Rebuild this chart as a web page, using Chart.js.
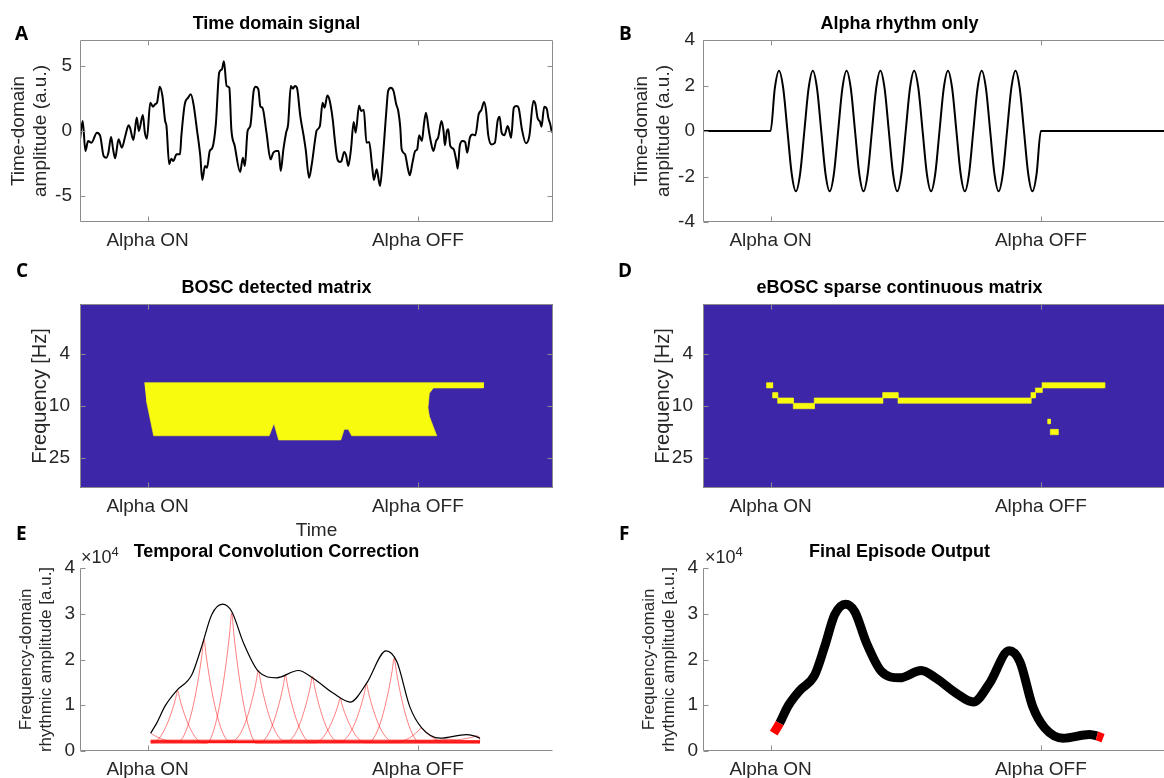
<!DOCTYPE html>
<html>
<head>
<meta charset="utf-8">
<script src="https://cdn.jsdelivr.net/npm/chart.js@4.4.0/dist/chart.umd.min.js"></script>
<style>
html,body{margin:0;padding:0;background:#fff;overflow:hidden;width:1164px;height:778px;position:relative}
canvas{position:absolute}
.tag{position:absolute;font:bold 19px "Open Sans",sans-serif;line-height:19px;color:#000}
.mult{position:absolute;font:18px "Liberation Sans",Arial,sans-serif;line-height:18px;color:#262626}
.mult sup{font-size:13px;vertical-align:top;position:relative;top:-5px}
</style>
</head>
<body>
<canvas id="a" width="560" height="252" style="left:0;top:10px"></canvas>
<canvas id="b" width="557" height="252" style="left:623px;top:10px"></canvas>
<canvas id="c" width="560" height="268" style="left:0;top:274px"></canvas>
<canvas id="d" width="557" height="254" style="left:623px;top:274px"></canvas>
<canvas id="e" width="560" height="240" style="left:0;top:538px"></canvas>
<canvas id="f" width="557" height="240" style="left:623px;top:538px"></canvas>

<div class="tag" style="left:15px;top:24px">A</div>
<div class="tag" style="left:619px;top:24px">B</div>
<div class="tag" style="left:16px;top:261px">C</div>
<div class="tag" style="left:618px;top:261px">D</div>
<div class="tag" style="left:16px;top:524px">E</div>
<div class="tag" style="left:619px;top:524px">F</div>
<div class="mult" style="left:81px;top:548px">×10<sup>4</sup></div>
<div class="mult" style="left:705px;top:548px">×10<sup>4</sup></div>

<script>
// x axis: time, alpha switched on at 1 and off at 5
const tickTimes = [1, 5]
const tickNames = ["Alpha ON", "Alpha OFF"]

// A: raw signal
const rawTime = [0.00,0.04,0.08,0.12,0.17,0.25,0.30,0.35,0.39,0.42,0.46,0.49,0.52,0.57,0.62,0.67,0.72,0.74,0.79,0.84,0.87,0.93,0.96,0.99,
  1.04,1.08,1.11,1.14,1.18,1.22,1.26,1.28,1.32,1.35,1.38,1.43,1.48,1.50,1.55,1.60,1.64,1.68,1.73,1.78,1.81,1.85,1.88,1.92,1.96,
  2.01,2.06,2.10,2.13,2.17,2.21,2.24,2.29,2.37,2.41,2.44,2.48,2.52,2.57,2.60,2.64,2.67,2.70,2.76,2.82,2.86,2.91,2.94,2.97,
  3.01,3.05,3.08,3.12,3.15,3.18,3.21,3.26,3.31,3.34,3.39,3.43,3.48,3.50,3.55,3.59,3.62,3.66,3.69,3.74,3.77,3.81,3.85,3.87,3.91,3.94,3.97,
  4.01,4.05,4.08,4.13,4.16,4.20,4.24,4.28,4.32,4.35,4.39,4.44,4.48,4.53,4.56,4.60,4.64,4.68,4.71,4.74,4.76,4.81,4.85,4.88,4.92,4.96,4.99,
  5.02,5.06,5.09,5.12,5.16,5.19,5.23,5.27,5.30,5.35,5.38,5.40,5.43,5.45,5.48,5.53,5.57,5.59,5.62,5.66,5.70,5.73,5.77,5.81,5.85,5.90,5.94,5.98,
  6.01,6.04,6.09,6.14,6.18,6.21,6.24,6.28,6.33,6.37,6.38,6.42,6.46,6.49,6.54,6.60,6.65,6.71,6.74,6.77,6.81,6.83,6.87,6.91,6.93,6.96,6.98,7.00]
const rawValue = [-0.64,0.77,-1.54,-0.77,-0.90,-0.13,-0.40,-1.92,-2.05,-1.67,-0.46,-1.41,-2.10,-0.64,-1.28,-0.38,0.44,0.26,-0.69,1.03,0.00,1.23,-0.13,-0.59,
  2.18,1.87,2.05,2.18,3.41,2.69,0.77,0.38,-2.56,-2.13,-2.31,-1.79,-1.79,-0.38,2.05,2.56,2.82,2.05,0.13,-1.92,-3.77,-2.69,-2.82,-1.54,-1.28,
  0.51,4.49,4.74,5.36,3.46,3.33,0.13,-1.15,-3.15,-2.05,-2.69,0.00,0.38,3.08,3.41,3.20,1.87,1.79,-0.13,-2.18,-1.67,-1.54,-1.54,-3.08,
  -1.41,-0.13,0.51,3.46,3.26,3.46,3.33,1.15,-0.38,-1.41,-3.59,-2.56,-0.64,0.00,0.38,2.18,1.79,2.74,2.44,0.90,-0.64,-2.18,-2.38,-2.31,-1.62,-1.92,-2.69,
  -1.41,0.69,-0.13,1.97,1.54,1.62,-0.90,-0.85,-2.56,-3.77,-2.95,-4.23,-2.18,1.28,3.08,3.33,3.08,2.05,1.54,0.26,-1.41,-1.79,-2.82,-3.41,-2.44,-1.54,-1.41,
  -0.33,-0.77,0.51,1.41,0.13,-0.77,-1.54,-0.77,-0.51,0.77,0.00,-1.10,0.00,0.13,-1.15,-1.41,-2.31,-2.90,-1.15,-0.77,-0.85,-1.67,-0.51,-0.26,-0.33,1.28,1.62,2.23,
  1.54,-0.26,-1.03,-0.90,0.77,1.10,-0.13,-0.33,0.38,-0.38,-0.51,1.79,1.92,1.79,0.13,-0.95,-0.38,2.31,2.05,1.03,0.69,0.33,1.87,1.67,1.03,0.51,0.00,-0.13]
const rawTicks = [-5, 0, 5]

// B: the alpha rhythm, one reading every 1/16 s from Alpha ON
const alphaStart = 1
const alphaStep = 0.0625
const alphaValue = [0,1.87,2.65,1.87,0,-1.87,-2.65,-1.87, 0,1.87,2.65,1.87,0,-1.87,-2.65,-1.87,
  0,1.87,2.65,1.87,0,-1.87,-2.65,-1.87, 0,1.87,2.65,1.87,0,-1.87,-2.65,-1.87,
  0,1.87,2.65,1.87,0,-1.87,-2.65,-1.87, 0,1.87,2.65,1.87,0,-1.87,-2.65,-1.87,
  0,1.87,2.65,1.87,0,-1.87,-2.65,-1.87, 0,1.87,2.65,1.87,0,-1.87,-2.65,-1.87, 0]
const alphaTicks = [-4, -2, 0, 2, 4]

// C: outline of the detected block (time, Hz)
const boscTime = [0.953,5.97,5.97,5.23,5.17,5.15,5.17,5.23,5.28,4.02,3.97,3.91,3.86,2.94,2.87,2.80,1.09,0.98]
const boscFreq = [6.63,6.63,7.28,7.28,8.0,10.3,12.0,14.5,16.9,16.9,15.1,15.1,18.2,18.2,13.6,16.9,16.9,9.0]
const freqTicks = [4, 10, 25]

// D: sparse detections, one frequency bin each
const sparseStart = [0.94,1.03,1.105,1.336,1.646,2.659,2.886,4.853,4.919,5.018,5.101,5.14]
const sparseEnd   = [1.03,1.105,1.336,1.646,2.659,2.886,4.853,4.919,5.018,5.945,5.14,5.255]
const sparseLow   = [6.63,7.90,8.68,9.54,8.68,7.90,8.68,7.90,7.28,6.63,12.6,15.1]
const sparseHigh  = [7.28,8.68,9.54,10.5,9.54,8.68,9.54,8.68,7.90,7.28,13.7,16.6]

// E/F: episode amplitude
const envTime = [1.046,1.135,1.258,1.431,1.653,1.80,1.949,2.11,2.245,2.42,2.64,2.91,3.23,3.45,3.75,4.00,4.24,4.53,4.69,4.88,5.06,5.33,5.72,5.83,5.92]
const envAmp = [3900,6100,9800,13200,16600,22800,29800,32100,30500,23600,17400,16000,17600,15900,12600,10700,14800,21900,19500,9700,5000,2800,3600,3300,2800]
// E: wavelet kernels under the episode
const peakTime = [1.046,1.445,1.835,2.245,2.64,3.04,3.44,3.85,4.24,4.65,5.05,5.45,5.87]
const peakAmp  = [3900,13200,24400,30100,17700,16600,16300,11500,14600,20300,5100,2600,3300]
const peakBase = [2000,1800,2200,1700,2300,1900,2100,1800,2200,2000,1900,2100,2400]
const kernelOffset = [0,0.03,0.06,0.1,0.14,0.18,0.22,0.26,0.3,0.36]
const kernelShape  = [1,0.85,0.71,0.55,0.41,0.29,0.19,0.11,0.05,0]
const envTicks = [0, 10000, 20000, 30000, 40000]

const ink = '#262626'
const axisGray = '#8c8c8c'
const blue = 'rgb(62,38,168)'
const yellow = 'rgb(249,251,14)'

const frame = {
  id: 'frame',
  beforeDatasetsDraw(chart, args, opts) {
    if (!opts.fill) return
    const a = chart.chartArea
    chart.ctx.save()
    chart.ctx.fillStyle = opts.fill
    chart.ctx.fillRect(a.left, a.top, a.right - a.left, a.bottom - a.top)
    chart.ctx.restore()
  },
  afterDraw(chart, args, opts) {
    const {ctx, chartArea: a, scales} = chart
    const L = a.left + 0.5, R = a.right - 0.5, T = a.top + 0.5, B = a.bottom - 0.5
    ctx.save()
    ctx.strokeStyle = axisGray
    ctx.lineWidth = 1
    ctx.beginPath()
    if (opts.box) {
      ctx.rect(L, T, R - L, B - T)
    } else {
      ctx.moveTo(L, T); ctx.lineTo(L, B); ctx.lineTo(R, B)
    }
    scales.x.ticks.forEach(t => {
      const px = Math.round(scales.x.getPixelForValue(t.value)) + 0.5
      ctx.moveTo(px, B); ctx.lineTo(px, B - 5)
      if (opts.box) { ctx.moveTo(px, T); ctx.lineTo(px, T + 5) }
    })
    scales.y.ticks.forEach(t => {
      const py = Math.round(scales.y.getPixelForValue(t.value)) + 0.5
      ctx.moveTo(L, py); ctx.lineTo(L + 5, py)
      if (opts.box) { ctx.moveTo(R, py); ctx.lineTo(R - 5, py) }
    })
    ctx.stroke()
    ctx.restore()
  }
}
Chart.register(frame)
Chart.defaults.font.family = '"Liberation Sans", Arial, sans-serif'
Chart.defaults.color = ink
Chart.defaults.animation = false
Chart.defaults.plugins.legend.display = false
Chart.defaults.plugins.tooltip.enabled = false
Chart.defaults.elements.point.radius = 0

function xAxis(h, title) {
  return {
    type: 'linear', min: 0, max: 7,
    grid: {display: false, drawTicks: false}, border: {display: false},
    ticks: {font: {size: 19}, padding: 7, maxRotation: 0, autoSkip: false, callback: (v, i) => tickNames[i]},
    afterBuildTicks: s => { s.ticks = tickTimes.map(v => ({value: v})) },
    afterFit: s => { s.height = h },
    title: title ? {display: true, text: title, font: {size: 19, lineHeight: 1.2}, padding: 0} : {display: false}
  }
}

function yAxis(type, min, max, ticks, pad, label, labelSize, titlePad, fmt) {
  return {
    type: type, min: min, max: max, reverse: type === 'logarithmic',
    grid: {display: false, drawTicks: false}, border: {display: false},
    ticks: {font: {size: 19}, padding: pad, autoSkip: false, callback: (v, i) => fmt(ticks[i])},
    afterBuildTicks: s => { s.ticks = ticks.map(v => ({value: v})) },
    afterFit: s => { s.width = 80 },
    title: {display: true, text: label, font: {size: labelSize, lineHeight: 1.15}, padding: {top: titlePad, bottom: 0}}
  }
}

function options(title, x, y, frameOpts, padRight) {
  return {
    responsive: false,
    layout: {padding: {left: 0, top: 0, bottom: 0, right: padRight}},
    plugins: {
      title: {display: true, text: title, color: '#000', font: {size: 18, weight: 'bold', lineHeight: 1}, padding: {top: 5, bottom: 7}},
      frame: frameOpts
    },
    scales: {x: x, y: y}
  }
}

const pairs = (xs, ys) => xs.map((v, i) => ({x: v, y: ys[i]}))

// A
new Chart(document.getElementById('a'), {
  type: 'line',
  data: {datasets: [{data: pairs(rawTime, rawValue), borderColor: '#000', borderWidth: 2, cubicInterpolationMode: 'monotone'}]},
  options: options('Time domain signal', xAxis(40),
    yAxis('linear', -7, 7, rawTicks, 8, ['Time-domain', 'amplitude (a.u.)'], 19, 8, String), {box: true}, 7)
})

// B
const alphaPts = [{x: 0, y: 0}].concat(alphaValue.map((v, i) => ({x: alphaStart + i * alphaStep, y: v}))).concat([{x: 7, y: 0}])
new Chart(document.getElementById('b'), {
  type: 'line',
  data: {datasets: [{data: alphaPts, borderColor: '#000', borderWidth: 2, cubicInterpolationMode: 'monotone'}]},
  options: options('Alpha rhythm only', xAxis(40),
    yAxis('linear', -4, 4, alphaTicks, 8, ['Time-domain', 'amplitude (a.u.)'], 19, 8, String), {box: true}, 4)
})

// C
new Chart(document.getElementById('c'), {
  type: 'line',
  data: {datasets: [{data: pairs(boscTime, boscFreq), fill: 'shape', backgroundColor: yellow, borderColor: 'rgba(249,251,14,0.6)', borderWidth: 1}]},
  options: options('BOSC detected matrix', xAxis(54, 'Time'),
    yAxis('logarithmic', 1.66, 42.4, freqTicks, 10, 'Frequency [Hz]', 20, 29, String), {box: true, fill: blue}, 7)
})

// D
const sparseSets = sparseStart.map((t0, i) => ({
  data: [{x: t0, y: sparseLow[i]}, {x: sparseEnd[i], y: sparseLow[i]}, {x: sparseEnd[i], y: sparseHigh[i]}, {x: t0, y: sparseHigh[i]}, {x: t0, y: sparseLow[i]}],
  fill: 'shape', backgroundColor: yellow, borderColor: 'rgba(249,251,14,0.6)', borderWidth: 1
}))
new Chart(document.getElementById('d'), {
  type: 'line',
  data: {datasets: sparseSets},
  options: options('eBOSC sparse continuous matrix', xAxis(40),
    yAxis('logarithmic', 1.66, 42.4, freqTicks, 10, 'Frequency [Hz]', 20, 29, String), {box: true, fill: blue}, 4)
})

// E
const first = envTime[0], last = envTime[envTime.length - 1]
function kernelLine(i) {
  const offs = kernelOffset.slice(1).reverse().map(o => -o).concat(kernelOffset)
  const shp = kernelShape.slice(1).reverse().concat(kernelShape)
  const pts = []
  offs.forEach((o, k) => {
    const t = peakTime[i] + o
    if (t >= first && t <= last) pts.push({x: t, y: peakBase[i] + (peakAmp[i] - peakBase[i]) * shp[k]})
  })
  if (pts[0].x > first) pts.unshift({x: first, y: peakBase[i]})
  if (pts[pts.length - 1].x < last) pts.push({x: last, y: peakBase[i]})
  return pts
}
const kernelSets = peakTime.map((t, i) => ({data: kernelLine(i), borderColor: 'rgba(255,0,0,0.5)', borderWidth: 1, cubicInterpolationMode: 'monotone'}))
const fmtE = v => String(v / 10000)
new Chart(document.getElementById('e'), {
  type: 'line',
  data: {datasets: [{data: pairs(envTime, envAmp), borderColor: '#000', borderWidth: 1.2, cubicInterpolationMode: 'monotone'}].concat(kernelSets)},
  options: options('Temporal Convolution Correction', xAxis(27),
    yAxis('linear', 0, 40000, envTicks, 5, ['Frequency-domain', 'rhythmic amplitude [a.u.]'], 17, 17, fmtE), {box: false}, 7)
})

// F
const n = envTime.length
new Chart(document.getElementById('f'), {
  type: 'line',
  data: {datasets: [{
    data: pairs(envTime, envAmp), borderColor: '#000', borderWidth: 9, borderCapStyle: 'butt', borderJoinStyle: 'round',
    cubicInterpolationMode: 'monotone',
    segment: {borderColor: c => (c.p0DataIndex === 0 || c.p1DataIndex === n - 1) ? '#ff0000' : undefined}
  }]},
  options: options('Final Episode Output', xAxis(27),
    yAxis('linear', 0, 40000, envTicks, 5, ['Frequency-domain', 'rhythmic amplitude [a.u.]'], 17, 17, fmtE), {box: false}, 4)
})
</script>
</body>
</html>
